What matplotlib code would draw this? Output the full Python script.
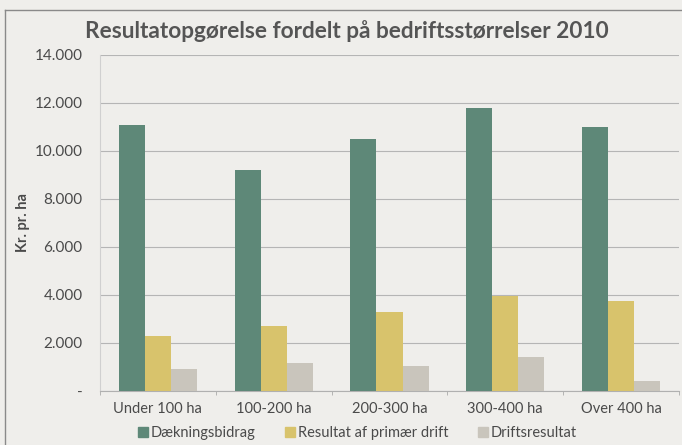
import matplotlib
matplotlib.use("Agg")
import matplotlib.pyplot as plt
from matplotlib.lines import Line2D
import numpy as np

categories = ["Under 100 ha", "100-200 ha", "200-300 ha", "300-400 ha", "Over 400 ha"]
series_names = ["Dækningsbidrag", "Resultat af primær drift", "Driftsresultat"]
daekningsbidrag = [11100, 9200, 10500, 11800, 11000]
resultat_primaer = [2300, 2700, 3300, 3950, 3750]
driftsresultat = [900, 1150, 1050, 1400, 400]
y_ticks = [0, 2000, 4000, 6000, 8000, 10000, 12000, 14000]
y_tick_labels = ["-", "2.000", "4.000", "6.000", "8.000", "10.000", "12.000", "14.000"]

colors = ["#5e8878", "#d8c36c", "#c9c5bc"]
bg = "#efeeeb"
txt = "#4a4a4a"

plt.rcParams['font.family'] = ['Lato', 'DejaVu Sans']

fig = plt.figure(figsize=(6.82, 4.45), dpi=100, facecolor=bg)
W, H = 682, 445
ax = fig.add_axes([100 / W, 1 - 391 / H, (679 - 100) / W, (391 - 55) / H])
ax.set_facecolor(bg)

x = np.arange(len(categories))
bw = 0.225
for i, (vals, c) in enumerate(zip([daekningsbidrag, resultat_primaer, driftsresultat], colors)):
    ax.bar(x + (i - 1) * bw, vals, width=bw, color=c, zorder=3, linewidth=0)

ax.set_xlim(-0.5, len(categories) - 0.5)
ax.set_ylim(0, 14000)
ax.set_yticks(y_ticks)
ax.set_yticklabels(y_tick_labels, fontsize=11, color=txt)
ax.set_xticks(x)
ax.set_xticklabels(categories, fontsize=10.5, color=txt)
ax.tick_params(axis='x', length=0, pad=8)
ax.set_xticks(np.arange(len(categories) + 1) - 0.5, minor=True)
ax.tick_params(axis='x', which='minor', length=3, color="#aaaaaa")
ax.tick_params(axis='y', length=0, pad=12.5)
ax.grid(axis='y', color="#b5b5b5", linewidth=0.8, zorder=0)
for s in ["top", "right"]:
    ax.spines[s].set_visible(False)
ax.spines["left"].set_color("#d0d0d0")
ax.spines["bottom"].set_color("#b0b0b0")

ax.set_ylabel("Kr. pr. ha", fontsize=10.5, fontweight='bold', color=txt)
ax.yaxis.set_label_coords((30 - 100) / 579, 0.5)

fig.text(347 / W, 1 - 31 / H, "Resultatopgørelse fordelt på bedriftsstørrelser 2010",
         ha='center', va='center', fontsize=16.3, fontweight='bold', color="#555555")

handles = [Line2D([0], [0], marker='s', linestyle='none', markersize=7,
                  markerfacecolor=c, markeredgecolor=c) for c in colors]
fig.legend(handles, series_names, loc='center', bbox_to_anchor=(357 / W, 1 - 433 / H),
           ncol=3, frameon=False, fontsize=10.5, handletextpad=0.1, columnspacing=2.0,
           labelcolor=txt, handlelength=0.8)

# outer frame of chart box
fig.add_artist(Line2D([5 / W, 5 / W], [0, 1 - 10 / H], transform=fig.transFigure,
                      color="#8a8a8a", linewidth=1))
fig.add_artist(Line2D([5 / W, 1], [1 - 10 / H, 1 - 10 / H], transform=fig.transFigure,
                      color="#8a8a8a", linewidth=1))

fig.savefig("out.png", dpi=100, facecolor=bg)
